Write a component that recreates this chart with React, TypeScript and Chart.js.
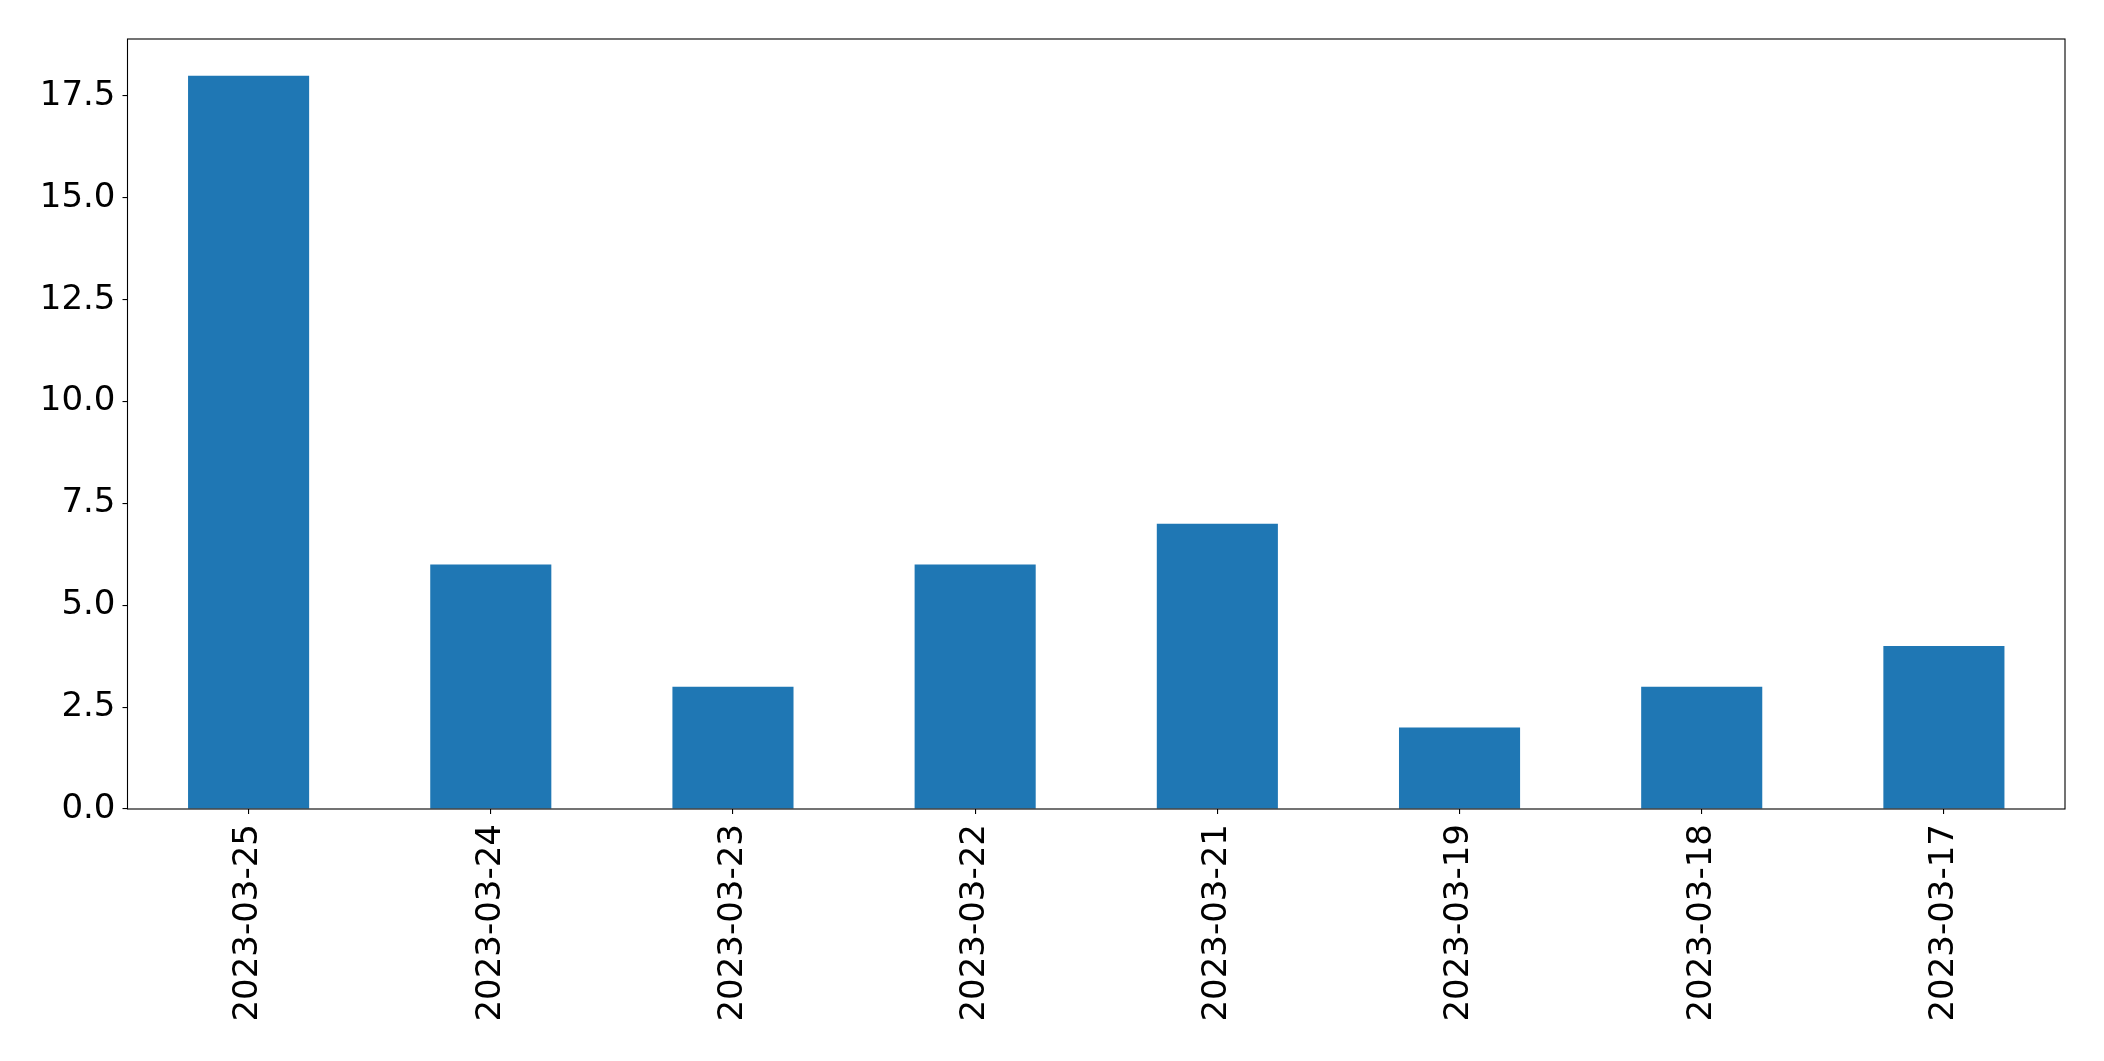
import React, { useEffect, useRef } from "react";
import { Chart, registerables } from "chart.js";

Chart.register(...registerables);

const categories = [
  "2023-03-25",
  "2023-03-24",
  "2023-03-23",
  "2023-03-22",
  "2023-03-21",
  "2023-03-19",
  "2023-03-18",
  "2023-03-17",
];
const values = [18, 6, 3, 6, 7, 2, 3, 4];
const yMax = 18.9;
const yStep = 2.5;

const frame = {
  id: "frame",
  afterDraw(chart: any) {
    const { ctx, chartArea } = chart;
    ctx.save();
    ctx.strokeStyle = "#000";
    ctx.lineWidth = 1.1;
    ctx.strokeRect(chartArea.left, chartArea.top, chartArea.right - chartArea.left, chartArea.bottom - chartArea.top);
    ctx.restore();
  },
};

export default function App() {
  const ref = useRef<HTMLCanvasElement>(null);
  useEffect(() => {
    if (!ref.current) return;
    const font = { family: "'DejaVu Sans', sans-serif", size: 34 };
    const chart = new Chart(ref.current, {
      type: "bar",
      data: {
        labels: categories,
        datasets: [
          {
            data: values,
            backgroundColor: "#1f77b4",
            barPercentage: 0.5,
            categoryPercentage: 1.0,
          },
        ],
      },
      options: {
        animation: false,
        responsive: false,
        devicePixelRatio: 1,
        layout: { padding: { top: 39, right: 39, left: 0, bottom: 0 } },
        plugins: { legend: { display: false }, tooltip: { enabled: false } },
        scales: {
          x: {
            offset: true,
            grid: { display: true, drawOnChartArea: false, drawTicks: true, tickLength: 5, color: "#000", lineWidth: 1.1, offset: false },
            border: { display: false },
            ticks: { color: "#000", font, minRotation: 90, maxRotation: 90, padding: 10, autoSkip: false },
            afterFit(scale: any) {
              scale.height = 1061 - 809;
            },
          },
          y: {
            min: 0,
            max: yMax,
            grid: { display: true, drawOnChartArea: false, drawTicks: true, tickLength: 5, color: "#000", lineWidth: 1.1 },
            border: { display: false },
            ticks: {
              color: "#000",
              font,
              stepSize: yStep,
              includeBounds: false,
              padding: 7,
              callback: (v: any) => Number(v).toFixed(1),
            },
            afterFit(scale: any) {
              scale.width = 127.5;
            },
          },
        },
      },
      plugins: [frame],
    });
    return () => chart.destroy();
  }, []);
  return (
    <div style={{ position: "fixed", left: 0, top: 0, width: 2104, height: 1061, background: "#fff" }}>
      <canvas ref={ref} width={2104} height={1061} style={{ display: "block", width: 2104, height: 1061 }} />
    </div>
  );
}
